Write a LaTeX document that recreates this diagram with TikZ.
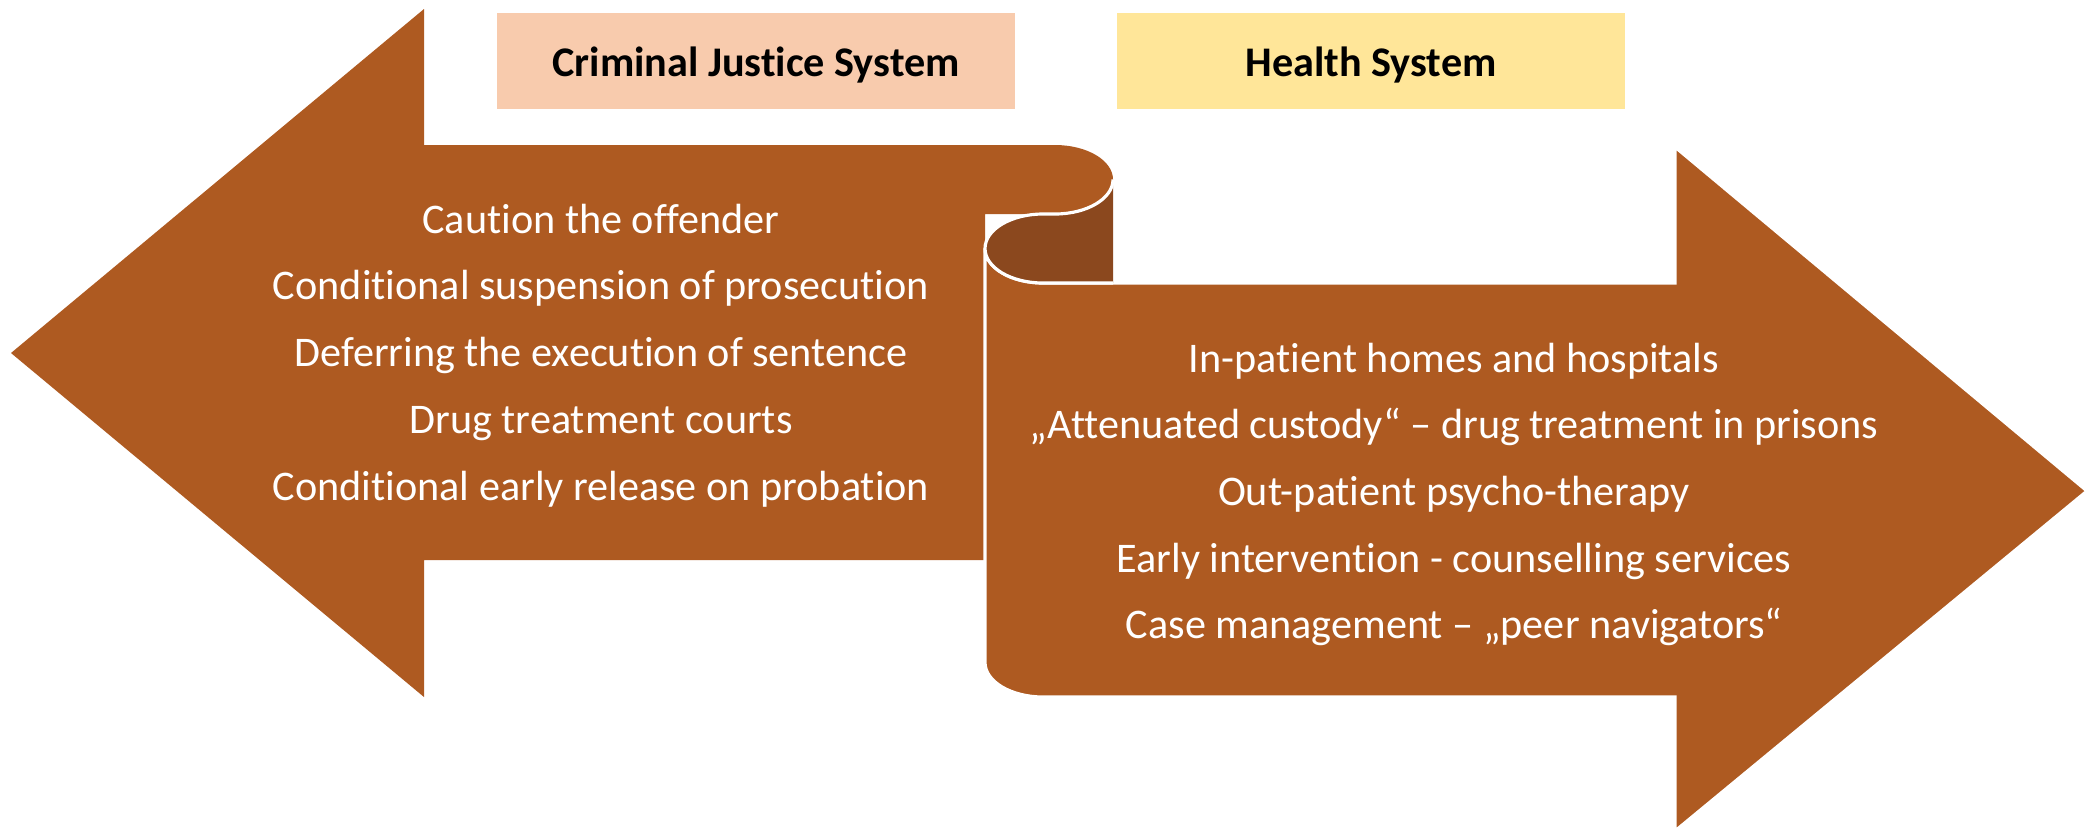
\documentclass[tikz,border=0pt]{standalone}
\usepackage{fontspec}
\setmainfont{Carlito}[Ligatures={NoCommon,NoDiscretionary,NoContextual}]
\definecolor{scrollbrown}{RGB}{174,90,33}
\definecolor{curldark}{RGB}{139,72,30}
\definecolor{cjspeach}{RGB}{248,203,173}
\definecolor{healthyellow}{RGB}{255,230,153}

\begin{document}
\begin{tikzpicture}[x=0.01cm, y=0.01cm]
\tikzstyle{every node}+=[inner sep=0pt]
\tikzstyle{item}=[white, anchor=base, font=\fontsize{12}{14}\selectfont]
\tikzstyle{head}=[black, anchor=base, font=\fontsize{12}{14}\selectfont\bfseries]
\useasboundingbox (0,0) rectangle (2091,-833);
% left arrow (criminal justice)
\fill [scrollbrown] (11,-353) -- (424,-9) -- (424,-145) -- (1055,-145) arc (90:-90:58 and 34.5) -- (985,-214) -- (985,-560) -- (424,-560) -- (424,-697) -- cycle;
% right arrow (health)
\draw [fill=scrollbrown, draw=white, line width=0.9pt] (985,-248.5) -- (985,-662.5) arc (180:270:58 and 34.5) -- (1675,-697) -- (1675,-831) -- (2087,-491) -- (1675,-147) -- (1675,-283) -- (1043,-283) arc (270:180:58 and 34.5) -- cycle;
% curl
\fill [curldark] (1113,-179.5) arc (0:-90:58 and 34.5) -- (1043,-214) arc (90:270:58 and 34.5) -- (1113,-283) -- cycle;
\draw [white, line width=0.9pt] (1113,-179.5) arc (0:-90:58 and 34.5) -- (1043,-214) arc (90:270:58 and 34.5) -- (1113,-283);
% headers
\fill [cjspeach] (497,-13) rectangle (1015,-109);
\node [head] (cjs) at (756,-76) {Criminal Justice System};
\fill [healthyellow] (1117,-13) rectangle (1625,-109);
\node [head] (hs) at (1371,-76) {Health System};
% criminal justice measures
\node [item] (caution) at (601,-233) {Caution the offender};
\node [item] (suspend) at (601,-299) {Conditional suspension of prosecution};
\node [item] (defer) at (601,-366) {Deferring the execution of sentence};
\node [item] (courts) at (601,-433) {Drug treatment courts};
\node [item] (release) at (601,-500) {Conditional early release on probation};
% health measures
\node [item] (inpatient) at (1454,-372) {In-patient homes and hospitals};
\node [item] (custody) at (1454,-438) {„Attenuated custody“ – drug treatment in prisons};
\node [item] (outpatient) at (1454,-505) {Out-patient psycho-therapy};
\node [item] (early) at (1454,-572) {Early intervention - counselling services};
\node [item] (casemgmt) at (1454,-638) {Case management – „peer navigators“};
\end{tikzpicture}
\end{document}
